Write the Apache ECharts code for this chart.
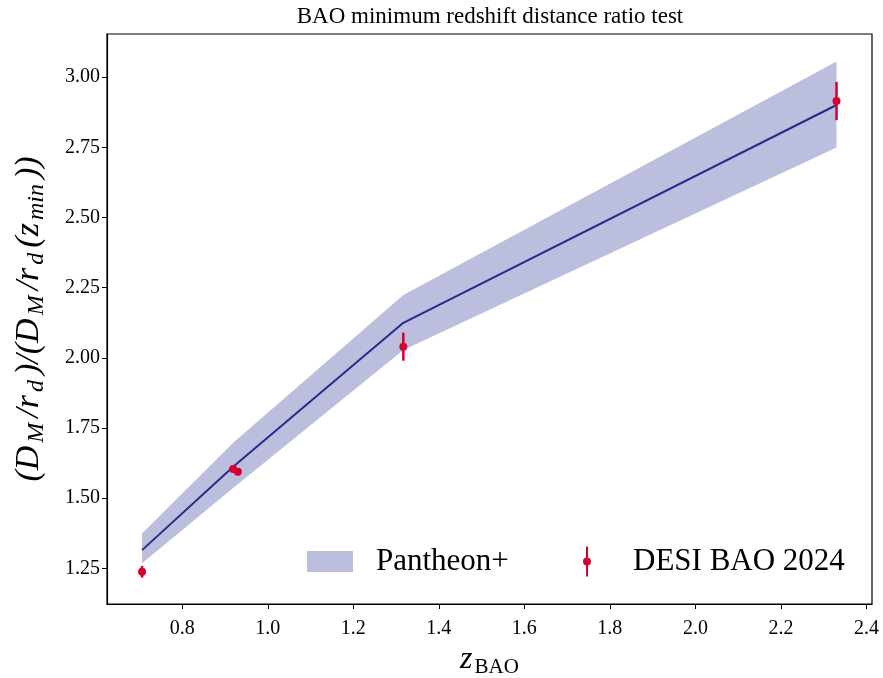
<!DOCTYPE html>
<html>
<head>
<meta charset="utf-8">
<script src="https://cdn.jsdelivr.net/npm/echarts@6/dist/echarts.min.js"></script>
<style>
  html, body { margin: 0; padding: 0; background: #fff; }
  #chart { width: 883px; height: 678px; }
</style>
</head>
<body>
<div id="chart"></div>
<script>
// 模型曲线（Pantheon+）
const zModel = [0.706, 0.919, 1.317, 2.330];
const modelRatio = [1.315, 1.612, 2.125, 2.901];
const bandLow = [1.268, 1.536, 2.028, 2.750];
const bandHigh = [1.374, 1.698, 2.224, 3.056];

// DESI BAO 2024 数据点
const zDesi = [0.706, 0.919, 0.930, 1.317, 2.330];
const ratioDesi = [1.238, 1.604, 1.594, 2.040, 2.915];
const errDesi = [0.021, 0.012, 0.012, 0.050, 0.068];

// 刻度
const xTicks = [0.8, 1.0, 1.2, 1.4, 1.6, 1.8, 2.0, 2.2, 2.4];
const yTicks = [1.25, 1.5, 1.75, 2.0, 2.25, 2.5, 2.75, 3.0];

const SERIF = '"Liberation Serif", "DejaVu Serif", serif';
const BAND = '#bcbedd';
const LINE = '#262a8c';
const RED = '#d4002f';

const chart = echarts.init(document.getElementById('chart'));

const option = {
  animation: false,
  title: {
    text: 'BAO minimum redshift distance ratio test',
    left: 485,
    textAlign: 'center',
    top: 0,
    textStyle: { fontFamily: SERIF, fontSize: 23, fontWeight: 'normal', color: '#000' }
  },
  legend: [
    {
      data: [{ name: 'Pantheon+', icon: 'rect' }],
      left: 307,
      top: 546,
      padding: 0,
      itemWidth: 46,
      itemHeight: 21,
      textStyle: { fontFamily: SERIF, fontSize: 31, color: '#000', lineHeight: 30, padding: [0, 0, 0, 18] }
    },
    {
      data: [{
        name: 'DESI BAO 2024',
        icon: 'path://M4,0h2v11h-2z M4,19h2v11h-2z M1,15a4,4 0 1,0 8,0a4,4 0 1,0 -8,0z'
      }],
      left: 583,
      top: 546,
      padding: 0,
      itemWidth: 8,
      itemHeight: 30,
      textStyle: { fontFamily: SERIF, fontSize: 31, color: '#000', lineHeight: 30, padding: [0, 0, 0, 37] }
    }
  ],
  grid: {
    left: 107, top: 34, right: 11, bottom: 74,
    outerBoundsMode: 'none',
    containLabel: false,
    show: true, borderColor: '#000', borderWidth: 1.2, backgroundColor: 'transparent'
  },
  xAxis: {
    type: 'value',
    min: 0.624,
    max: 2.413,
    splitLine: { show: false },
    axisLine: { lineStyle: { color: '#000', width: 1.2 } },
    axisTick: { inside: false, length: 5, lineStyle: { color: '#000' }, customValues: xTicks },
    axisLabel: {
      customValues: xTicks,
      formatter: v => v.toFixed(1),
      fontFamily: SERIF, fontSize: 20, color: '#000', margin: 15
    },
    name: '{z|z}{s|BAO}',
    nameLocation: 'middle',
    nameGap: 36,
    nameTextStyle: {
      rich: {
        z: { fontFamily: SERIF, fontStyle: 'italic', fontSize: 32, lineHeight: 36, verticalAlign: 'middle', color: '#000' },
        s: { fontFamily: SERIF, fontSize: 21, lineHeight: 36, verticalAlign: 'bottom', color: '#000', padding: [0, 0, 0, 2] }
      }
    }
  },
  yAxis: {
    type: 'value',
    min: 1.123,
    max: 3.154,
    splitLine: { show: false },
    axisLine: { show: true, lineStyle: { color: '#000', width: 1.2 } },
    axisTick: { show: true, inside: false, length: 5, lineStyle: { color: '#000' }, customValues: yTicks },
    axisLabel: {
      customValues: yTicks,
      formatter: v => v.toFixed(2),
      fontFamily: SERIF, fontSize: 20, color: '#000', margin: 7
    },
    name: '{m|(D}{s|M}{m|/r}{s|d}{m|)/(D}{s|M}{m|/r}{s|d}{m|(z}{s|min}{m|))}',
    nameLocation: 'middle',
    nameRotate: 90,
    nameGap: 58,
    nameTextStyle: {
      rich: {
        m: { fontFamily: SERIF, fontStyle: 'italic', fontSize: 34, lineHeight: 40, verticalAlign: 'middle', color: '#000', padding: [0, 3, 0, 3] },
        s: { fontFamily: SERIF, fontStyle: 'italic', fontSize: 24, lineHeight: 40, verticalAlign: 'bottom', color: '#000', padding: [0, 2, 0, 0] }
      }
    }
  },
  series: [
    {
      name: 'Pantheon+',
      type: 'custom',
      itemStyle: { color: BAND },
      data: zModel.map((z, i) => [z, bandLow[i], bandHigh[i]]),
      encode: { x: 0, y: [1, 2] },
      renderItem: (params, api) => {
        if (params.dataIndex !== 0) return null;
        const pts = [];
        zModel.forEach((z, i) => pts.push(api.coord([z, bandHigh[i]])));
        for (let i = zModel.length - 1; i >= 0; i--) pts.push(api.coord([zModel[i], bandLow[i]]));
        return { type: 'polygon', shape: { points: pts }, style: { fill: BAND } };
      },
      z: 1
    },
    {
      name: 'model',
      type: 'line',
      data: zModel.map((z, i) => [z, modelRatio[i]]),
      symbol: 'none',
      lineStyle: { color: LINE, width: 2 },
      z: 2
    },
    {
      name: 'DESI BAO 2024',
      type: 'custom',
      itemStyle: { color: RED },
      data: zDesi.map((z, i) => [z, ratioDesi[i], errDesi[i]]),
      encode: { x: 0, y: 1 },
      renderItem: (params, api) => {
        const x = api.value(0), y = api.value(1), e = api.value(2);
        const lo = api.coord([x, y - e]);
        const hi = api.coord([x, y + e]);
        const c = api.coord([x, y]);
        return {
          type: 'group',
          children: [
            { type: 'line', shape: { x1: lo[0], y1: lo[1], x2: hi[0], y2: hi[1] }, style: { stroke: RED, lineWidth: 2.5 } },
            { type: 'circle', shape: { cx: c[0], cy: c[1], r: 4 }, style: { fill: RED } }
          ]
        };
      },
      z: 3
    }
  ]
};

chart.setOption(option);
</script>
</body>
</html>
